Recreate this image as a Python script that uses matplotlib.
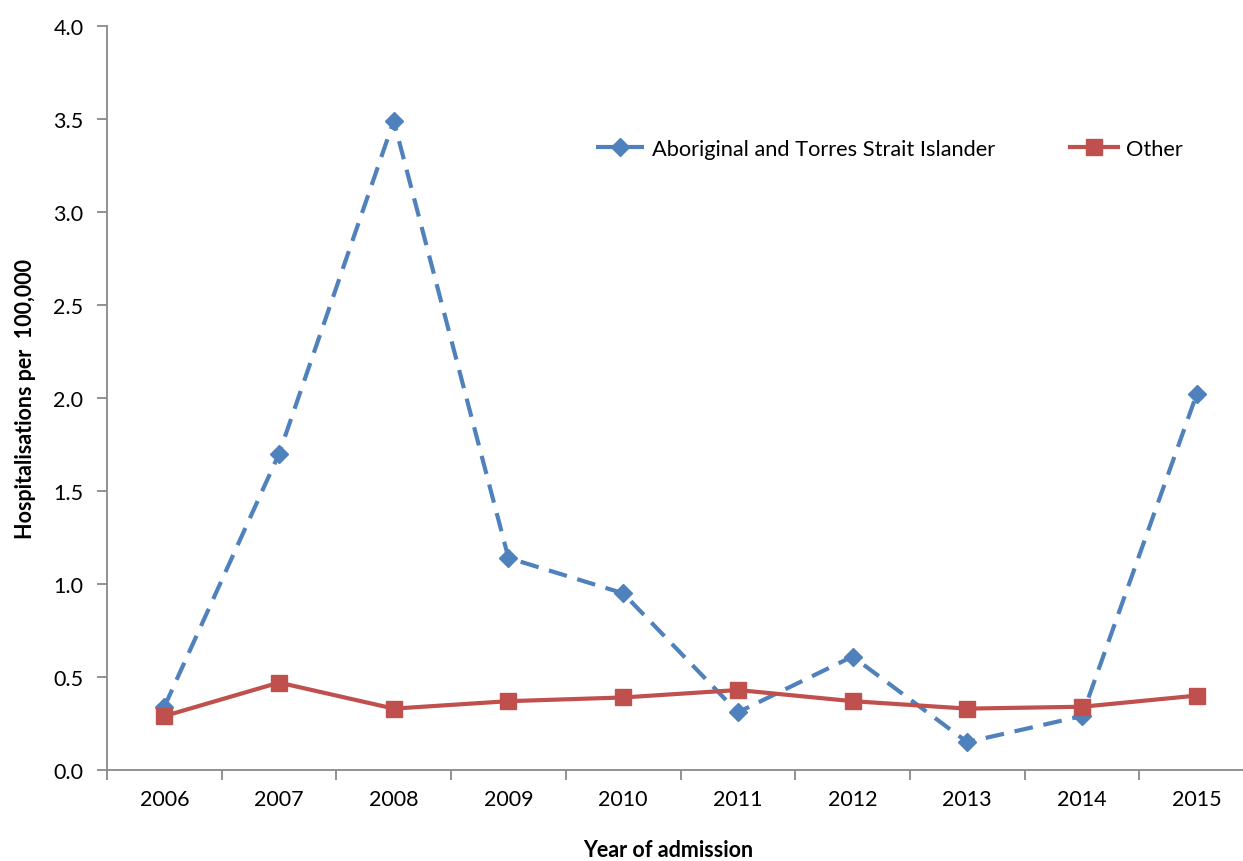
import matplotlib.pyplot as plt
import numpy as np

plt.rcParams['font.family'] = ['Lato', 'DejaVu Sans']

anos = ['2006', '2007', '2008', '2009', '2010', '2011', '2012', '2013', '2014', '2015']
aborigene = [0.34, 1.70, 3.49, 1.14, 0.95, 0.31, 0.61, 0.15, 0.29, 2.02]
outros = [0.29, 0.47, 0.33, 0.37, 0.39, 0.43, 0.37, 0.33, 0.34, 0.40]

fig = plt.figure(figsize=(12.43, 8.62), dpi=100)
ax = fig.add_axes([107 / 1243, 91 / 862, 1147 / 1243, 744 / 862])

x = np.arange(len(anos))
ax.plot(x, aborigene, color='#4F81BD', linestyle=(0, (4.5, 2.6)), linewidth=3.0,
        marker='D', markersize=9.5, label='Aboriginal and Torres Strait Islander', zorder=2)
ax.plot(x, outros, color='#C0504D', linewidth=3.0, marker='s', markersize=11,
        label='Other', zorder=3)

ax.set_xlim(-0.5, len(anos) - 0.5)
ax.set_ylim(0, 4.0)
ax.set_yticks(np.arange(0, 4.01, 0.5))
ax.set_yticklabels([f'{v:.1f}' for v in np.arange(0, 4.01, 0.5)])
ax.set_xticks(x)
ax.set_xticklabels(anos)
ax.set_xticks(np.arange(-0.5, len(anos), 1), minor=True)

for lado in ['top', 'right']:
    ax.spines[lado].set_visible(False)
for lado in ['left', 'bottom']:
    ax.spines[lado].set_color('#898989')
    ax.spines[lado].set_linewidth(1.3)

ax.tick_params(axis='y', direction='out', length=7, width=1.3, color='#898989',
               labelsize=15.5, pad=10)
ax.tick_params(axis='x', which='major', length=0, labelsize=15.5, pad=14)
ax.tick_params(axis='x', which='minor', direction='out', length=7, width=1.3, color='#898989')

ax.set_ylabel('Hospitalisations per  100,000', fontsize=15.5, fontweight='bold', labelpad=12)
ax.set_xlabel('Year of admission', fontsize=15.5, fontweight='bold')
ax.xaxis.set_label_coords(0.489, -0.093)

ax.legend(loc='center left', bbox_to_anchor=(0.426, 0.835), ncol=2, frameon=False,
          fontsize=15.7, columnspacing=3.4, handlelength=2.2, handletextpad=0.4,
          borderpad=0, borderaxespad=0)

fig.savefig('out.png', dpi=100)
